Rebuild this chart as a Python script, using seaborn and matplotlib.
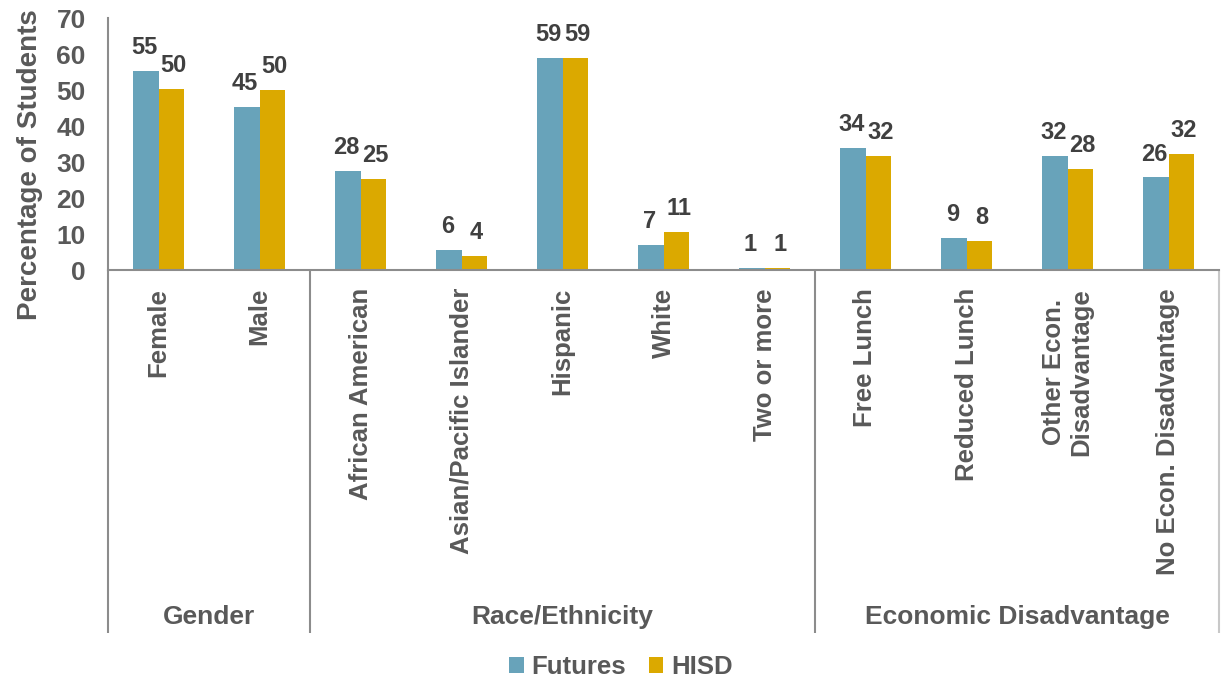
import matplotlib
matplotlib.use("Agg")
import matplotlib.pyplot as plt
import matplotlib.transforms as mtransforms
import seaborn as sns
import pandas as pd

# ---- data ----
categories = ["Female", "Male", "African American", "Asian/Pacific Islander",
              "Hispanic", "White", "Two or more", "Free Lunch", "Reduced Lunch",
              "Other Econ.\nDisadvantage", "No Econ. Disadvantage"]
groups = ["Gender", "Race/Ethnicity", "Economic Disadvantage"]
group_sizes = [2, 5, 4]
futures = [55.3, 45.3, 27.6, 5.6, 58.9, 6.9, 0.6, 33.9, 8.9, 31.7, 25.7]
hisd = [50.4, 49.9, 25.3, 3.9, 58.9, 10.6, 0.6, 31.7, 8.1, 28.1, 32.2]
series = ["Futures", "HISD"]
colors = ["#68A3BA", "#DBA900"]

df = pd.DataFrame({
    "Category": categories * 2,
    "Series": [series[0]] * len(categories) + [series[1]] * len(categories),
    "Value": futures + hisd,
})

sns.set_style("white")
plt.rcParams["font.family"] = ["Liberation Sans", "DejaVu Sans"]
plt.rcParams["font.weight"] = "bold"

TXT = "#595959"
LBL = "#404040"
LINE = "#8C8C8C"

fig = plt.figure(figsize=(12.21, 6.82), dpi=100)
ax = fig.add_axes([108 / 1221, 1 - 270 / 682, (1219 - 108) / 1221, 252 / 682])

sns.barplot(data=df, x="Category", y="Value", hue="Series", order=categories,
            hue_order=series, palette=colors, width=0.5, ax=ax,
            linewidth=0, saturation=1)

ax.set_ylim(0, 70)
ax.set_xlim(-0.5, len(categories) - 0.5)
ax.set_yticks(range(0, 71, 10))
ax.tick_params(axis="y", length=0, pad=16, labelsize=19, labelcolor=TXT)
ax.tick_params(axis="x", length=0, pad=13, labelsize=18.5, labelcolor=TXT)
for lab in ax.get_yticklabels():
    lab.set_fontweight("bold")
ax.set_xticks(range(len(categories)))
ax.set_xticklabels(categories, rotation=90, ha="center", va="top",
                   fontweight="bold", multialignment="center")
ax.set_xlabel("")
ax.set_ylabel("Percentage of Students", fontsize=20, fontweight="bold",
              color=TXT, va="center")
ax.yaxis.set_label_coords(-0.070, 0.417)

for side in ["top", "right"]:
    ax.spines[side].set_visible(False)
for side in ["left", "bottom"]:
    ax.spines[side].set_color(LINE)
    ax.spines[side].set_linewidth(1.5)

# data labels
for cont, vals, dx in zip(ax.containers, [futures, hisd], [-1.2, 1.8]):
    for patch, v in zip(cont.patches, vals):
        ax.annotate(f"{v:.0f}", (patch.get_x() + patch.get_width() / 2, patch.get_height()),
                    xytext=(dx, 12.2), textcoords="offset points",
                    ha="center", va="baseline", fontsize=17, fontweight="bold",
                    color=LBL)

# group separators and labels
trans = mtransforms.blended_transform_factory(ax.transData, ax.transAxes)
y_bot = -(633 - 270) / 252
y_grp = -(617 - 270) / 252
edges = [-0.5]
for n in group_sizes:
    edges.append(edges[-1] + n)
for i, e in enumerate(edges):
    ax.plot([e, e], [0, y_bot], transform=trans,
            color=LINE if i < len(edges) - 1 else "#C8C8C8",
            lw=1.5, clip_on=False, solid_capstyle="butt")
for g, a, b in zip(groups, edges[:-1], edges[1:]):
    ax.text((a + b) / 2, y_grp, g, transform=trans, ha="center", va="center",
            fontsize=19, fontweight="bold", color=TXT)

# legend
handles, labels = ax.get_legend_handles_labels()
ax.legend_.remove()
fig.legend(handles, labels, loc="center", bbox_to_anchor=(621 / 1221, 1 - 667 / 682),
           ncol=2, frameon=False, handlelength=0.55, handleheight=0.55,
           handletextpad=0.3, columnspacing=0.9, labelcolor=TXT,
           prop={"weight": "bold", "size": 18.5})

fig.savefig("out.png", dpi=100)
